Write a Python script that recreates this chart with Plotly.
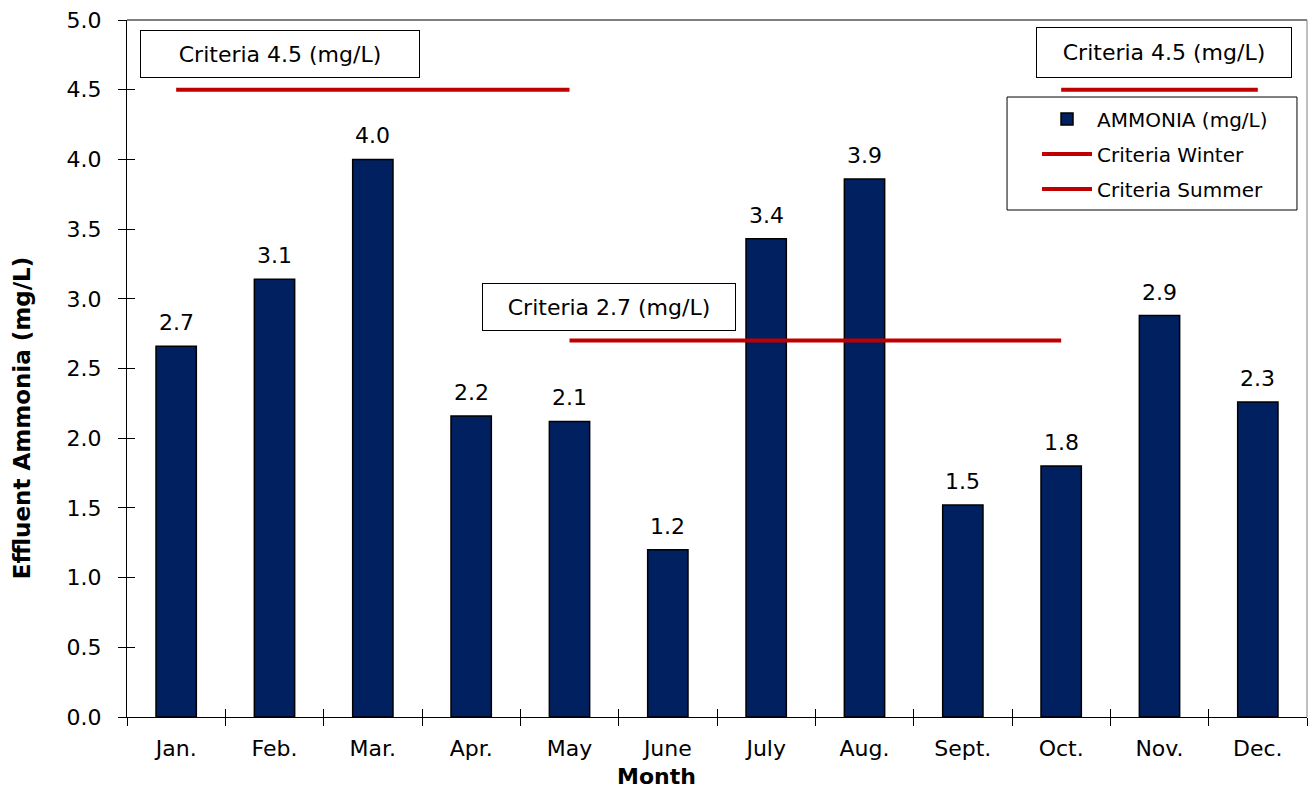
import plotly.graph_objects as go

months = ["Jan.", "Feb.", "Mar.", "Apr.", "May", "June", "July", "Aug.", "Sept.", "Oct.", "Nov.", "Dec."]
ammonia = [2.66, 3.14, 4.00, 2.16, 2.12, 1.20, 3.43, 3.86, 1.52, 1.80, 2.88, 2.26]
criteria_winter = [4.5, 4.5, 4.5, 4.5, 4.5, None, None, None, None, 4.5, 4.5, 4.5]
criteria_summer = [None, None, None, None, 2.7, 2.7, 2.7, 2.7, 2.7, 2.7, None, None]
y_ticks = [0.0, 0.5, 1.0, 1.5, 2.0, 2.5, 3.0, 3.5, 4.0, 4.5, 5.0]

NAVY = "#002060"
RED = "#C00000"
FONT = "DejaVu Sans, Arial, sans-serif"

fig = go.Figure()
fig.add_trace(go.Bar(
    x=months, y=ammonia, name="AMMONIA (mg/L)", legendgroup="a",
    marker=dict(color=NAVY, line=dict(color="black", width=1.5)),
    width=0.41,
))
fig.add_trace(go.Scatter(
    x=months, y=criteria_winter, name="Criteria Winter", mode="lines", legendgroup="b",
    line=dict(color=RED, width=4), connectgaps=False,
))
fig.add_trace(go.Scatter(
    x=months, y=criteria_summer, name="Criteria Summer", mode="lines", legendgroup="c",
    line=dict(color=RED, width=4), connectgaps=False,
))

# value labels above bars
annotations = [
    dict(x=m, y=v, xref="x", yref="y", text=f"{v:.1f}", showarrow=False,
         yanchor="bottom", yshift=9, font=dict(size=22, color="black", family=FONT))
    for m, v in zip(months, ammonia)
]

# boxed criteria notes
boxes = [
    ("Criteria 4.5 (mg/L)", 0.011, 0.9857, 278, 46),
    ("Criteria 4.5 (mg/L)", 0.7703, 0.990, 254, 49),
    ("Criteria 2.7 (mg/L)", 0.3008, 0.6227, 252, 46),
]
for text, bx, by, w, h in boxes:
    annotations.append(dict(
        x=bx, y=by, xref="paper", yref="paper", xanchor="left", yanchor="top",
        text=text, showarrow=False, width=w, height=h, align="center", valign="middle",
        bordercolor="black", borderwidth=1, borderpad=0, bgcolor="white",
        font=dict(size=22, color="black", family=FONT),
    ))

# axis titles
annotations.append(dict(
    x=-0.089, y=0.43, xref="paper", yref="paper", text="<b>Effluent Ammonia (mg/L)</b>",
    textangle=-90, showarrow=False, xanchor="center", yanchor="middle",
    font=dict(size=23, color="black", family=FONT),
))
annotations.append(dict(
    x=0.449, y=-0.086, xref="paper", yref="paper", text="<b>Month</b>",
    showarrow=False, xanchor="center", yanchor="middle",
    font=dict(size=22, color="black", family=FONT),
))

fig.update_layout(
    width=1309, height=791,
    margin=dict(l=127, r=2, t=20, b=74),
    paper_bgcolor="white", plot_bgcolor="white",
    font=dict(family=FONT, size=22, color="black"),
    showlegend=True,
    legend=dict(
        x=0.7712, y=0.886, xanchor="left", yanchor="top",
        borderwidth=0, bgcolor="rgba(0,0,0,0)",
        font=dict(size=20, family=FONT), tracegroupgap=6, itemwidth=50,
    ),
    annotations=annotations,
    xaxis=dict(
        type="category", tickson="boundaries", ticks="outside", ticklen=8,
        tickcolor="black", showline=True, linecolor="black", linewidth=1,
        showgrid=False, tickfont=dict(size=22), ticklabelstandoff=12,
        range=[-0.5, 11.5],
    ),
    yaxis=dict(
        range=[0, 5], tickvals=y_ticks, tickformat=".1f", ticks="outside",
        ticklen=8, tickcolor="black", showline=True, linecolor="black",
        linewidth=1, showgrid=False, zeroline=False, tickfont=dict(size=22),
        ticklabelstandoff=12,
    ),
    # inner halves of the crossing tick marks
    xaxis2=dict(
        overlaying="x", anchor="y", side="bottom", range=[-0.5, 11.5],
        tickvals=[i - 0.5 for i in range(len(months) + 1)], ticks="inside",
        ticklen=8, tickcolor="black", showticklabels=False, showgrid=False,
        zeroline=False, showline=False,
    ),
    yaxis2=dict(
        overlaying="y", anchor="x", side="left", range=[0, 5],
        tickvals=y_ticks, ticks="inside", ticklen=8, tickcolor="black",
        showticklabels=False, showgrid=False, zeroline=False, showline=False,
    ),
    shapes=[
        dict(type="line", xref="paper", yref="paper", x0=0, x1=1, y0=1, y1=1,
             line=dict(color="black", width=1)),
        dict(type="line", xref="paper", yref="paper", x0=1, x1=1, y0=0, y1=1,
             line=dict(color="#808080", width=1)),
        # legend frame
        dict(type="rect", xref="paper", yref="paper", x0=0.7458, x1=0.9915,
             y0=0.7274, y1=0.8895, line=dict(color="black", width=1),
             fillcolor="white", layer="below"),
    ],
)

# invisible trace so the overlay axes are drawn
fig.add_trace(go.Scatter(x=[0], y=[0], xaxis="x2", yaxis="y2", mode="markers",
                         marker=dict(opacity=0), showlegend=False, hoverinfo="skip"))

fig.write_html("out.html")
